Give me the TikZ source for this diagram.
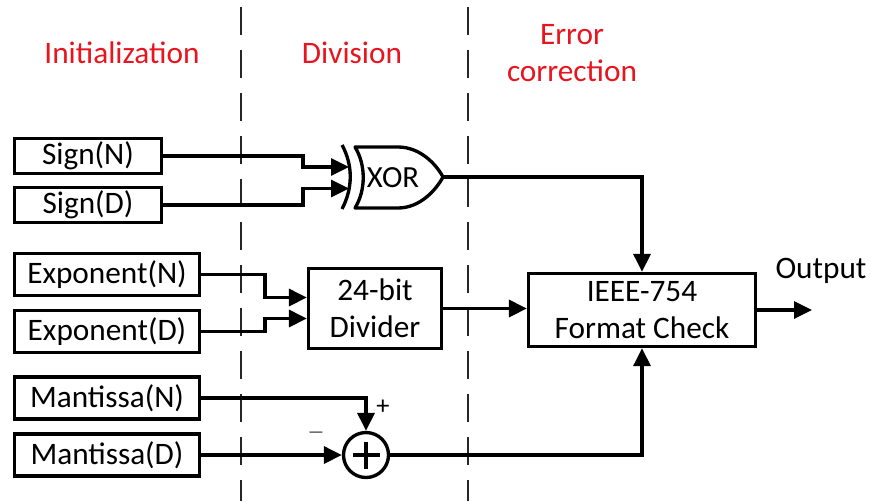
\documentclass[tikz,border=0pt]{standalone}
\usepackage{fontspec}
\setmainfont{Carlito}
\usetikzlibrary{arrows.meta,positioning,calc}
\definecolor{Ink}{HTML}{000000}
\definecolor{StageRed}{HTML}{E8141E}
\definecolor{Guide}{HTML}{262626}
\tikzset{
  inbox/.style={draw=Ink,line width=1.9pt,minimum width=3.70cm,minimum height=0.84cm,align=center,font=\fontsize{17.8}{21}\selectfont,inner sep=0pt},
  blockbox/.style={draw=Ink,line width=1.9pt,align=center,font=\fontsize{17.8}{21}\selectfont,inner sep=0pt},
  stagelabel/.style={align=center,text=StageRed,font=\fontsize{17.8}{21.5}\selectfont},
  zone/.style={draw=Guide,line width=1.1pt,dash pattern=on 0.56cm off 0.30cm},
  line/.style={-{Triangle[length=0.36cm,width=0.34cm]},draw=Ink,line width=1.9pt},
  wire/.style={draw=Ink,line width=1.9pt}
}

\begin{document}
\begin{tikzpicture}[x=0.02cm,y=-0.02cm]
      \useasboundingbox (0,0) rectangle (871,501);
      % stage borders
      \draw[zone] (241,7) -- (241,501);
      \draw[zone] (468,7) -- (468,501);
      \node[stagelabel] (init) at (122,53) {Initialization};
      \node[stagelabel] (divs) at (352,53) {Division};
      \node[stagelabel] (errc) at (572,53) {Error\\correction};
      % inputs
      \node[inbox,minimum width=2.94cm,minimum height=0.70cm] (signN) at (88,156) {Sign(N)};
      \node[inbox,minimum width=2.94cm,minimum height=0.70cm] (signD) at (88,205) {Sign(D)};
      \node[inbox] (expN) at (107,274.5) {Exponent(N)};
      \node[inbox] (expD) at (107,331.5) {Exponent(D)};
      \node[inbox] (manN) at (107,398) {Mantissa(N)};
      \node[inbox] (manD) at (107,455) {Mantissa(D)};
      % xor gate
      \draw[wire] (342,145) .. controls (353,165) and (353,188) .. (342,209);
      \draw[wire,line join=round] (355,147) -- (398,147) .. controls (420,147) and (436,164) .. (443,177)
        .. controls (436,190) and (420,208) .. (398,208) -- (355,208)
        .. controls (366,190) and (366,165) .. cycle;
      \node[font=\fontsize{17.5}{20}\selectfont] (xor) at (393,178) {XOR};
      \coordinate (xin1) at (349,167);
      \coordinate (xin2) at (349,188.5);
      \coordinate (xout) at (443,177);
      % blocks
      \node[blockbox,minimum width=2.66cm,minimum height=1.60cm] (div) at (375,308.5) {24-bit\\Divider};
      \node[blockbox,minimum width=4.54cm,minimum height=1.46cm] (ieee) at (642,310) {IEEE-754\\Format Check};
      \node[draw=Ink,line width=1.9pt,circle,minimum size=0.90cm,inner sep=0pt] (adder) at (366,455) {};
      \draw[line width=2.4pt] ([xshift=-0.27cm]adder.center) -- ([xshift=0.27cm]adder.center);
      \draw[line width=2.4pt] ([yshift=-0.27cm]adder.center) -- ([yshift=0.27cm]adder.center);
      \node[font=\fontsize{15}{17}\selectfont] (plus) at (383,407) {+};
      \node[font=\fontsize{10}{12}\selectfont,text=Guide] (minus) at (316,435) {\textemdash};
      \node[font=\fontsize{17.8}{21}\selectfont] (outlbl) at (821,271) {Output};
      \coordinate (outtip) at (812,310);
      % connections
      \draw[line] (signN.east) -- (303,156) |- (xin1);
      \draw[line] (signD.east) -- (303,205) |- (xin2);
      \draw[line] (xout) -| (ieee.north);
      \draw[line] (expN.east) -- (265,274.5) |- ([yshift=0.22cm]div.west);
      \draw[line] (expD.east) -- (265,331.5) |- ([yshift=-0.20cm]div.west);
      \draw[line] (div.east) -- (div.east -| ieee.west);
      \draw[line] (ieee.east) -- (outtip);
      \draw[line] (manN.east) -| (adder.north);
      \draw[line] (manD.east) -- (adder.west);
      \draw[line] (adder.east) -| (ieee.south);
    \end{tikzpicture}
\end{document}
